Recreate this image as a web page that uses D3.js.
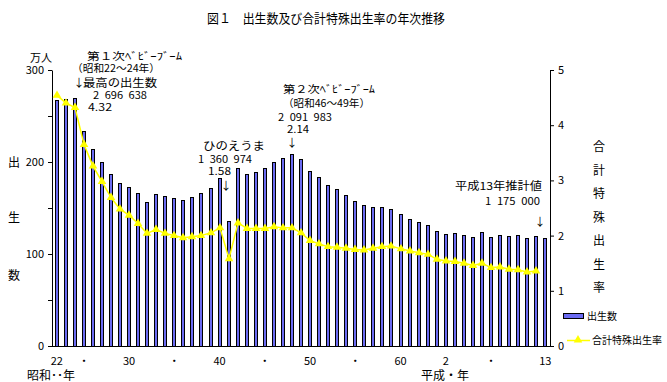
<!DOCTYPE html>
<html><head><meta charset="utf-8">
<script src="https://cdn.jsdelivr.net/npm/d3@7"></script>
<style>
body{margin:0;background:#fff}
svg{display:block}
text{font-family:"Noto Sans CJK JP","Noto Sans",sans-serif;fill:#000}
</style>
</head><body>
<svg id="c" width="667" height="382"></svg>
<script>
// ---- data ----
const years = [1947,1948,1949,1950,1951,1952,1953,1954,1955,1956,1957,1958,1959,1960,1961,1962,1963,1964,1965,1966,1967,1968,1969,1970,1971,1972,1973,1974,1975,1976,1977,1978,1979,1980,1981,1982,1983,1984,1985,1986,1987,1988,1989,1990,1991,1992,1993,1994,1995,1996,1997,1998,1999,2000,2001];
const births = [2678792,2681624,2696638,2337507,2137689,2005162,1868040,1769580,1730692,1665278,1566713,1653469,1626088,1606041,1589372,1618616,1659521,1716761,1823697,1360974,1935647,1871839,1889815,1934239,2000973,2038682,2091983,2029989,1901440,1832617,1755100,1708643,1642580,1576889,1529455,1515392,1508687,1489780,1431577,1382946,1346658,1314006,1246802,1221585,1223245,1208989,1188282,1238328,1187064,1206555,1191665,1203147,1177669,1190547,1175000];
const tfr = [4.54,4.40,4.32,3.65,3.26,2.98,2.69,2.48,2.37,2.22,2.04,2.11,2.04,2.00,1.96,1.98,2.00,2.05,2.14,1.58,2.23,2.13,2.13,2.13,2.16,2.14,2.14,2.05,1.91,1.85,1.80,1.79,1.77,1.75,1.74,1.77,1.80,1.81,1.76,1.72,1.69,1.66,1.57,1.54,1.53,1.50,1.46,1.50,1.42,1.43,1.39,1.38,1.34,1.36,null];
const xTickYears = [1947,1950,1955,1960,1965,1970,1975,1980,1985,1990,1995,2001];
const xTickLabels = ["22","・","30","・","40","・","50","・","60","2","・","13"];
const leftTicks = [0,50,100,150,200,250,300];
const leftTickLabels = ["0","","100","","200","","300"];
const rightTicks = [0,1,2,3,4,5];

const title = "図１　出生数及び合計特殊出生率の年次推移";
const seriesNames = ["出生数","合計特殊出生率"];

// ---- layout ----
const svg = d3.select("#c");
const L = 52, R = 550, T = 70, B = 346;

const x = d3.scaleBand().domain(years).range([L, R]).paddingInner(0.55).paddingOuter(0.3);
const yL = d3.scaleLinear().domain([0,300]).range([B, T]);
const yR = d3.scaleLinear().domain([0,5]).range([B, T]);
const cx = d => Math.round(x(d) + x.bandwidth()/2);

// title
svg.append("text").attr("x", 207).attr("y", 23).attr("font-size", 13)
  .attr("textLength", 238).attr("lengthAdjust", "spacingAndGlyphs").text(title);

// bars
svg.append("g").selectAll("rect").data(years).join("rect")
  .attr("x", (d) => cx(d) - 1.5)
  .attr("width", 3)
  .attr("y", (d,i) => Math.round(yL(births[i]/10000)) + 0.5)
  .attr("height", (d,i) => B - Math.round(yL(births[i]/10000)))
  .attr("fill", "#6b6bf2").attr("stroke", "#000").attr("stroke-width", 1);

// axes
const axL = svg.append("g").attr("transform", `translate(${L},0)`)
  .call(d3.axisLeft(yL).tickValues(leftTicks).tickSize(4).tickSizeOuter(0).tickPadding(4)
    .tickFormat((d,i) => leftTickLabels[i]));
const axR = svg.append("g").attr("transform", `translate(${R},0)`)
  .call(d3.axisRight(yR).tickValues(rightTicks).tickSize(4).tickSizeOuter(0).tickPadding(4)
    .tickFormat(d3.format("d")));
const axB = svg.append("g").attr("transform", `translate(0,${B})`)
  .call(d3.axisBottom(x).tickValues(xTickYears).tickSize(0).tickSizeOuter(0).tickPadding(11)
    .tickFormat((d,i) => xTickLabels[i]));
[axL, axR, axB].forEach(g => {
  g.selectAll("text").attr("font-family", '"Noto Sans CJK JP",sans-serif').attr("font-size", 11).attr("fill", "#000");
  g.selectAll("path,line").attr("stroke", "#000");
});
axB.selectAll(".domain").attr("d", `M${L},0.5H${R+1}`);

// TFR line
const pts = years.map((d,i) => ({y: d, v: tfr[i]})).filter(p => p.v != null);
svg.append("path").datum(pts)
  .attr("d", d3.line().x(p => cx(p.y)).y(p => yR(p.v)))
  .attr("fill", "none").attr("stroke", "#ffff00").attr("stroke-width", 1.5);
svg.append("g").selectAll("path").data(pts).join("path")
  .attr("transform", p => `translate(${cx(p.y)},${yR(p.v)})`)
  .attr("d", d3.symbol(d3.symbolTriangle, 32))
  .attr("fill", "#ffff00");

// axis titles
svg.append("text").attr("x", 30).attr("y", 62).attr("font-size", 11).text("万人");
const vL = ["出","生","数"], vLy = [167, 222, 280];
vL.forEach((c,i) => svg.append("text").attr("x", 14).attr("y", vLy[i]).attr("text-anchor","middle").attr("font-size", 12).text(c));
const vR = "合計特殊出生率".split("");
vR.forEach((c,i) => svg.append("text").attr("x", 599).attr("y", 151 + i*23.5).attr("text-anchor","middle").attr("font-size", 12).text(c));

// bottom era labels
svg.append("text").attr("x", 27).attr("y", 380).attr("font-size", 12).text("昭和･･年");
svg.append("text").attr("x", 421).attr("y", 380).attr("font-size", 12).text("平成・年");

// legend
svg.append("rect").attr("x", 563.5).attr("y", 313.5).attr("width", 20).attr("height", 5)
  .attr("fill", "#6b6bf2").attr("stroke", "#000");
svg.append("text").attr("x", 587).attr("y", 320).attr("font-size", 10).text(seriesNames[0]);
svg.append("line").attr("x1", 567).attr("x2", 590).attr("y1", 340.5).attr("y2", 340.5)
  .attr("stroke", "#ffff00").attr("stroke-width", 1.5);
svg.append("path").attr("transform", "translate(578,340)").attr("d", d3.symbol(d3.symbolTriangle, 32)).attr("fill", "#ffff00");
svg.append("text").attr("x", 592).attr("y", 344).attr("font-size", 10).text(seriesNames[1]);

// annotations
const sp = "\u2002";
const ann = [
  ["第１次ﾍﾞﾋﾞｰﾌﾞｰﾑ", 87, 60, 95, 10.5],
  ["（昭和22～24年）", 72, 72, 88, 10.5],
  ["最高の出生数", 83, 87, 74, 11],
  ["2" + sp + "696" + sp + "638", 93, 99, 54, 10],
  ["4.32", 88, 111, 24, 10],
  ["ひのえうま", 203, 150, 62, 11],
  ["1" + sp + "360" + sp + "974", 198, 163, 54, 10],
  ["1.58", 208, 175, 23, 10],
  ["第２次ﾍﾞﾋﾞｰﾌﾞｰﾑ", 283, 93, 92, 10.5],
  ["（昭和46～49年）", 283, 107, 87, 10.5],
  ["2" + sp + "091" + sp + "983", 278, 121, 54, 10],
  ["2.14", 287, 133, 22, 10],
  ["平成13年推計値", 455, 190, 87, 11],
  ["1" + sp + "175" + sp + "000", 485, 205, 55, 10]
];
ann.forEach(a => svg.append("text").attr("x", a[1]).attr("y", a[2]).attr("font-size", a[4])
  .attr("textLength", a[3]).attr("lengthAdjust", "spacingAndGlyphs").text(a[0]));
const arrows = [[79, 87], [226, 190], [292, 147], [540, 226]];
arrows.forEach(a => svg.append("text").attr("x", a[0]).attr("y", a[1]).attr("text-anchor","middle").attr("font-size", 11).text("↓"));
</script>
</body></html>
